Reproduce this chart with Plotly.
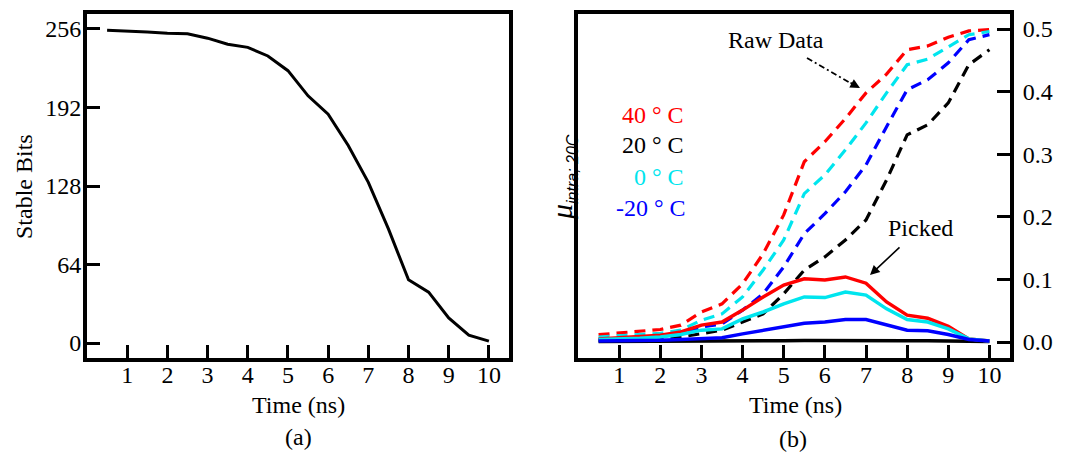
import plotly.graph_objects as go

# ---------------- data ----------------
time_ns = [0.5, 1, 1.5, 2, 2.5, 3, 3.5, 4, 4.5, 5, 5.5, 6, 6.5, 7, 7.5, 8, 8.5, 9, 9.5, 10]

stable_bits = [255, 254.5, 253.5, 252.5, 252, 248.5, 243.5, 241, 234, 222, 201.5, 186.5,
               161, 131, 93, 51.5, 41.5, 20.5, 6.5, 1.5]

raw_40 = [0.0117, 0.0144, 0.017, 0.02, 0.027, 0.048, 0.061, 0.093, 0.141, 0.203, 0.288, 0.32,
          0.357, 0.398, 0.428, 0.467, 0.473, 0.487, 0.497, 0.499]
raw_20 = [0.003, 0.0035, 0.004, 0.005, 0.008, 0.013, 0.019, 0.032, 0.045, 0.077, 0.115, 0.136,
          0.163, 0.195, 0.259, 0.331, 0.347, 0.382, 0.443, 0.467]
raw_0 = [0.008, 0.0096, 0.0117, 0.014, 0.019, 0.035, 0.045, 0.072, 0.115, 0.163, 0.237, 0.267,
         0.307, 0.35, 0.398, 0.443, 0.452, 0.472, 0.491, 0.496]
raw_m20 = [0.004, 0.005, 0.006, 0.008, 0.012, 0.024, 0.029, 0.051, 0.077, 0.12, 0.173, 0.205,
           0.24, 0.283, 0.344, 0.403, 0.419, 0.446, 0.483, 0.491]

picked_40 = [0.005, 0.007, 0.008, 0.011, 0.016, 0.027, 0.032, 0.051, 0.072, 0.091, 0.101, 0.099,
             0.104, 0.094, 0.064, 0.043, 0.038, 0.025, 0.005, 0.0016]
picked_20 = [0.001, 0.001, 0.001, 0.0012, 0.0013, 0.0015, 0.0016, 0.0018, 0.002, 0.0022, 0.0025,
             0.0027, 0.0028, 0.0027, 0.0025, 0.0022, 0.002, 0.0016, 0.0012, 0.001]
picked_0 = [0.004, 0.0045, 0.006, 0.008, 0.012, 0.019, 0.021, 0.037, 0.048, 0.061, 0.072, 0.071,
            0.08, 0.075, 0.053, 0.036, 0.032, 0.021, 0.005, 0.0016]
picked_m20 = [0.0016, 0.0016, 0.002, 0.0027, 0.004, 0.006, 0.007, 0.013, 0.019, 0.024, 0.03,
              0.032, 0.036, 0.036, 0.027, 0.019, 0.018, 0.012, 0.004, 0.0016]

x_ticks = [1, 2, 3, 4, 5, 6, 7, 8, 9, 10]
bits_ticks = [0, 64, 128, 192, 256]
mu_ticks = [0.0, 0.1, 0.2, 0.3, 0.4, 0.5]

temp_labels = ["40 ° C", "20 ° C", "0 ° C", "-20 ° C"]
temp_colors = ["#ff0000", "#000000", "#00e5ee", "#0000ff"]

# ---------------- figure ----------------
W, H = 1068, 469
FONT = "Liberation Serif"
FS = 24

def px(x):
    return x / W

def py(y):
    return 1 - y / H

fig = go.Figure()

fig.add_trace(go.Scatter(x=time_ns, y=stable_bits, mode="lines",
                         line=dict(color="black", width=3), xaxis="x", yaxis="y"))

raw_series = [raw_40, raw_20, raw_0, raw_m20]
for vals, col in zip(raw_series, temp_colors):
    fig.add_trace(go.Scatter(x=time_ns, y=vals, mode="lines",
                             line=dict(color=col, width=3.2, dash="11px,7px"),
                             xaxis="x2", yaxis="y2"))
for vals, col in zip([picked_20, picked_40, picked_0, picked_m20],
                     ["#000000", "#ff0000", "#00e5ee", "#0000ff"]):
    fig.add_trace(go.Scatter(x=time_ns, y=vals, mode="lines",
                             line=dict(color=col, width=3.5),
                             xaxis="x2", yaxis="y2"))

axis_common = dict(showline=True, linewidth=4, linecolor="black", mirror=True,
                   ticks="inside", ticklen=13, tickwidth=3, tickcolor="black",
                   showgrid=False, zeroline=False,
                   tickfont=dict(family=FONT, size=FS, color="black"))

fig.update_layout(
    width=W, height=H,
    margin=dict(l=0, r=0, t=0, b=0),
    paper_bgcolor="white", plot_bgcolor="white",
    showlegend=False,
    font=dict(family=FONT, size=FS, color="black"),
    xaxis=dict(domain=[px(87), px(509)], range=[0, 10.5], tickvals=x_ticks,
               anchor="y", ticklabelstandoff=-8, **axis_common),
    yaxis=dict(domain=[py(358), py(14)], range=[-12.2, 268.2], tickvals=bits_ticks,
               anchor="x", ticklabelstandoff=-3, **axis_common),
    xaxis2=dict(domain=[px(578), px(1010)], range=[0, 10.5], tickvals=x_ticks,
                anchor="y2", ticklabelstandoff=-8, **axis_common),
    yaxis2=dict(domain=[py(358), py(14)], range=[-0.0255, 0.524], tickvals=mu_ticks,
                tickformat=".1f", side="right", anchor="x2", ticklabelstandoff=4,
                **axis_common),
)

ann = []
def txt(x, y, text, color="black", xanchor="center", **kw):
    d = dict(x=px(x), y=py(y), xref="paper", yref="paper", text=text, showarrow=False,
             xanchor=xanchor, yanchor="middle",
             font=dict(family=FONT, size=FS, color=color))
    d.update(kw)
    ann.append(d)

txt(298, 405, "Time (ns)")
txt(298, 437, "(a)")
txt(795, 405, "Time (ns)")
txt(793, 439, "(b)")
txt(24, 187, "Stable Bits", textangle=-90)

ann.append(dict(x=px(563), y=py(177), xref="paper", yref="paper", showarrow=False,
                xanchor="center", yanchor="middle", textangle=-90,
                text="<i>μ</i><sub><span style='font-family:Liberation Sans;font-size:16px'>"
                     "<i>intra; 20C</i></span></sub>",
                font=dict(family="Liberation Serif", size=30, color="black")))

label_y = [115, 145, 177, 208]
label_x = [686, 686, 686, 688]
for t, c, lx, ly in zip(temp_labels, temp_colors, label_x, label_y):
    txt(lx, ly, t, color=c, xanchor="right")

txt(776, 40, "Raw Data")
txt(920, 228, "Picked")

# dashed arrow for Raw Data
fig.add_shape(type="line", xref="paper", yref="paper",
              x0=px(807), y0=py(58), x1=px(852), y1=py(84),
              line=dict(color="black", width=1.8, dash="6px,3px,2px,3px"))
ann.append(dict(x=px(860), y=py(88), xref="paper", yref="paper", text="",
                showarrow=True, ax=-11, ay=-6, arrowhead=2, arrowsize=1.2,
                arrowwidth=1.6, arrowcolor="black"))
# solid arrow for Picked
ann.append(dict(x=px(870), y=py(275), xref="paper", yref="paper", text="",
                showarrow=True, ax=31, ay=-29, arrowhead=2, arrowsize=1.2,
                arrowwidth=1.6, arrowcolor="black"))

fig.update_layout(annotations=ann)
fig.write_html("out.html")
